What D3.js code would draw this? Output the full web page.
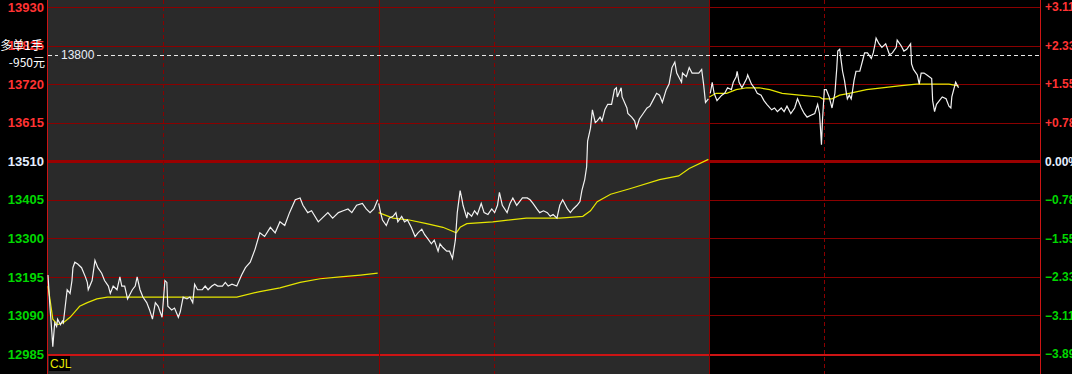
<!DOCTYPE html>
<html>
<head>
<meta charset="utf-8">
<script src="https://cdn.jsdelivr.net/npm/d3@7"></script>
<style>
  html, body { margin: 0; padding: 0; background: #000; overflow: hidden; }
  svg { display: block; }
</style>
</head>
<body>
<div id="chart"></div>
<script>
// price grid (left axis) and previous settle
const priceTicks = [13930, 13825, 13720, 13615, 13510, 13405, 13300, 13195, 13090, 12985];
const prevClose = 13510;
const orderLine = 13800;
const orderLabels = ['多单1手', '-950元'];

// minutes per trading day, day breaks and session (night close) breaks
const dayLength = 345;
const dayBreaks = [345, 690];
const sessionBreaks = [120, 465, 810];

// [minute of day, price]
const day1Price = [
  [0, 13200], [2, 13115], [4, 13045], [5, 13005], [7, 13070], [9, 13060], [10, 13080], [13, 13065],
  [15, 13075], [16, 13070], [18, 13115], [20, 13160], [23, 13150], [25, 13185], [26, 13220], [28, 13235],
  [31, 13230], [35, 13220], [39, 13195], [41, 13180], [42, 13160], [46, 13185], [49, 13240], [52, 13220],
  [56, 13205], [59, 13185], [63, 13170], [65, 13150], [68, 13170], [72, 13160], [75, 13195], [77, 13170],
  [80, 13170], [83, 13135], [88, 13160], [91, 13170], [93, 13195], [96, 13160], [99, 13140], [103, 13125],
  [106, 13105], [109, 13080], [112, 13125], [115, 13115], [119, 13085], [122, 13185], [124, 13180],
  [125, 13115], [129, 13105], [132, 13110], [136, 13085], [138, 13100], [141, 13140], [145, 13135],
  [148, 13140], [151, 13125], [153, 13175], [156, 13160], [161, 13160], [164, 13170], [167, 13160],
  [171, 13170], [174, 13175], [177, 13170], [182, 13170], [185, 13180], [188, 13170], [192, 13175],
  [197, 13170], [202, 13200], [206, 13220], [211, 13235], [216, 13270], [221, 13315], [226, 13305],
  [232, 13330], [237, 13315], [242, 13345], [247, 13335], [252, 13370], [258, 13405], [263, 13410],
  [266, 13390], [271, 13370], [275, 13375], [282, 13345], [286, 13355], [292, 13370], [297, 13355],
  [303, 13370], [308, 13375], [313, 13380], [317, 13370], [322, 13390], [328, 13395], [332, 13380],
  [336, 13370], [340, 13380], [344, 13405]
];
const day2Price = [
  [0, 13395], [2, 13370], [4, 13350], [8, 13335], [11, 13355], [15, 13360], [18, 13370], [20, 13345],
  [24, 13360], [27, 13345], [30, 13350], [34, 13330], [38, 13305], [41, 13315], [45, 13325], [48, 13310],
  [51, 13300], [55, 13285], [58, 13295], [62, 13265], [64, 13285], [67, 13275], [71, 13265], [74, 13265],
  [77, 13245], [80, 13295], [82, 13370], [85, 13430], [87, 13405], [88, 13390], [92, 13355], [93, 13370],
  [97, 13360], [100, 13375], [103, 13365], [107, 13395], [110, 13370], [114, 13365], [118, 13380],
  [121, 13370], [124, 13390], [126, 13425], [129, 13390], [134, 13370], [137, 13395], [140, 13410],
  [144, 13390], [147, 13400], [150, 13410], [155, 13410], [158, 13405], [161, 13395], [165, 13380],
  [168, 13370], [172, 13375], [176, 13370], [179, 13360], [182, 13365], [186, 13355], [189, 13390],
  [192, 13405], [197, 13380], [200, 13370], [203, 13380], [207, 13390], [210, 13400], [212, 13430],
  [215, 13460], [217, 13495], [218, 13565], [221, 13600], [223, 13650], [226, 13615], [228, 13620],
  [231, 13630], [233, 13620], [236, 13650], [239, 13665], [243, 13665], [246, 13705], [248, 13710],
  [249, 13685], [253, 13710], [254, 13685], [259, 13655], [260, 13640], [264, 13630], [267, 13620],
  [269, 13600], [272, 13625], [276, 13640], [280, 13655], [283, 13660], [286, 13675], [290, 13695],
  [293, 13690], [296, 13670], [300, 13705], [303, 13720], [306, 13765], [309, 13780], [311, 13750],
  [316, 13725], [317, 13750], [321, 13740], [324, 13765], [327, 13750], [331, 13750], [334, 13750],
  [337, 13760], [339, 13720], [341, 13670], [344, 13680]
];
const day3Price = [
  [1, 13695], [3, 13725], [5, 13695], [8, 13675], [13, 13690], [16, 13695], [19, 13710], [23, 13705],
  [25, 13725], [28, 13740], [29, 13755], [31, 13725], [34, 13710], [39, 13735], [40, 13745], [44, 13720],
  [47, 13710], [50, 13695], [54, 13690], [57, 13675], [60, 13665], [65, 13650], [68, 13655], [71, 13645],
  [75, 13655], [78, 13645], [81, 13660], [85, 13640], [89, 13655], [92, 13680], [96, 13655], [99, 13640],
  [102, 13630], [106, 13635], [110, 13640], [113, 13665], [115, 13640], [117, 13555], [118, 13620],
  [120, 13705], [122, 13705], [125, 13685], [128, 13655], [131, 13695], [133, 13765], [134, 13810],
  [136, 13815], [138, 13775], [139, 13755], [141, 13730], [143, 13695], [144, 13680], [146, 13690],
  [148, 13680], [149, 13695], [151, 13730], [153, 13755], [157, 13755], [160, 13785], [162, 13805],
  [165, 13805], [169, 13790], [171, 13805], [173, 13830], [174, 13845], [177, 13830], [180, 13820],
  [184, 13830], [188, 13800], [191, 13805], [195, 13820], [196, 13840], [200, 13825], [203, 13810],
  [206, 13815], [210, 13830], [211, 13775], [213, 13760], [217, 13745], [219, 13720], [221, 13750],
  [224, 13750], [227, 13745], [232, 13735], [233, 13675], [235, 13645], [237, 13665], [240, 13675],
  [243, 13685], [247, 13680], [250, 13660], [252, 13655], [253, 13685], [257, 13725], [260, 13710]
];

// [minute of day, average price]
const day1Avg = [
  [0, 13170], [2, 13135], [5, 13080], [10, 13065], [16, 13070], [23, 13085], [28, 13100], [33, 13115],
  [41, 13125], [51, 13135], [62, 13140], [78, 13140], [130, 13140], [166, 13140], [197, 13140],
  [221, 13155], [242, 13165], [263, 13180], [284, 13190], [305, 13195], [326, 13200], [344, 13205]
];
const day2Avg = [
  [0, 13370], [15, 13355], [32, 13350], [50, 13340], [67, 13330], [81, 13315], [85, 13330], [92, 13340],
  [119, 13345], [154, 13355], [189, 13355], [213, 13360], [221, 13375], [228, 13400], [242, 13420],
  [262, 13435], [293, 13460], [313, 13470], [324, 13490], [344, 13515]
];
const day3Avg = [
  [0, 13685], [7, 13695], [18, 13695], [28, 13705], [39, 13710], [52, 13710], [63, 13705], [76, 13695],
  [94, 13690], [115, 13685], [118, 13680], [128, 13680], [136, 13690], [146, 13695], [164, 13705],
  [180, 13710], [198, 13715], [216, 13720], [233, 13720], [250, 13720], [260, 13715]
];

const width = 1072;
const height = 374;
const plot = { left: 48, right: 1040, top: 7, bottom: 354 };

const svg = d3.select('#chart')
  .append('svg')
  .attr('width', width)
  .attr('height', height);

const x = d3.scaleLinear()
  .domain([0, dayLength * 3])
  .range([plot.left, plot.right]);

const y = d3.scaleLinear()
  .domain([d3.min(priceTicks), d3.max(priceTicks)])
  .range([plot.bottom, plot.top]);

const crisp = v => Math.round(v) + 0.5;

// backgrounds: past days grey, today black
svg.append('rect')
  .attr('x', 0).attr('y', 0)
  .attr('width', width).attr('height', height)
  .attr('fill', '#000');
svg.append('rect')
  .attr('x', plot.left)
  .attr('y', 0)
  .attr('width', Math.round(x(dayBreaks[1])) - plot.left)
  .attr('height', height)
  .attr('fill', '#2a2a2a');

// horizontal grid
svg.append('g')
  .selectAll('line')
  .data(priceTicks)
  .enter()
  .append('line')
  .attr('x1', plot.left)
  .attr('x2', plot.right)
  .attr('y1', d => (d === prevClose ? Math.round(y(d)) : crisp(y(d))))
  .attr('y2', d => (d === prevClose ? Math.round(y(d)) : crisp(y(d))))
  .attr('stroke', (d) => {
    if (d === d3.min(priceTicks)) return '#cc1414';
    return d === prevClose ? '#9a0000' : '#8a0000';
  })
  .attr('stroke-width', (d) => {
    if (d === prevClose) return 3;
    return d === d3.min(priceTicks) ? 2 : 1;
  })
  .attr('shape-rendering', 'crispEdges');

// day breaks (solid) and night-session ends (dashed)
svg.append('g')
  .selectAll('line')
  .data(dayBreaks)
  .enter()
  .append('line')
  .attr('x1', d => crisp(x(d)))
  .attr('x2', d => crisp(x(d)))
  .attr('y1', 0)
  .attr('y2', height)
  .attr('stroke', '#8a0000')
  .attr('shape-rendering', 'crispEdges');

svg.append('g')
  .selectAll('line')
  .data(sessionBreaks)
  .enter()
  .append('line')
  .attr('x1', d => crisp(x(d)))
  .attr('x2', d => crisp(x(d)))
  .attr('y1', 0)
  .attr('y2', height)
  .attr('stroke', '#8a0000')
  .attr('stroke-dasharray', '4,3')
  .attr('shape-rendering', 'crispEdges');

// axis borders
svg.append('line')
  .attr('x1', crisp(plot.left - 1)).attr('x2', crisp(plot.left - 1))
  .attr('y1', 0).attr('y2', height)
  .attr('stroke', '#cc1414')
  .attr('shape-rendering', 'crispEdges');
svg.append('line')
  .attr('x1', crisp(plot.right)).attr('x2', crisp(plot.right))
  .attr('y1', 0).attr('y2', height)
  .attr('stroke', '#cc1414')
  .attr('shape-rendering', 'crispEdges');

// order price line
svg.append('line')
  .attr('x1', plot.left)
  .attr('x2', plot.right)
  .attr('y1', crisp(y(orderLine)))
  .attr('y2', crisp(y(orderLine)))
  .attr('stroke', '#e8e8e8')
  .attr('stroke-dasharray', '4,3')
  .attr('shape-rendering', 'crispEdges');
const orderText = svg.append('text')
  .attr('x', plot.left + 13)
  .attr('y', y(orderLine))
  .attr('dy', '0.35em')
  .attr('fill', '#e8eef8')
  .attr('font-family', 'Liberation Sans, Arial, sans-serif')
  .attr('font-size', '12px')
  .text(orderLine);
const bb = orderText.node().getBBox();
svg.insert('rect', () => orderText.node())
  .attr('x', bb.x - 3)
  .attr('y', bb.y)
  .attr('width', bb.width + 5)
  .attr('height', bb.height)
  .attr('fill', '#2a2a2a');

// price and average lines, one path per day
const line = d3.line()
  .x(d => x(d[0]))
  .y(d => y(d[1]));

const days = [
  { price: day1Price, avg: day1Avg },
  { price: day2Price, avg: day2Avg },
  { price: day3Price, avg: day3Avg },
];

days.forEach((day, i) => {
  const shift = d => [d[0] + i * dayLength, d[1]];
  svg.append('path')
    .datum(day.avg.map(shift))
    .attr('fill', 'none')
    .attr('stroke', '#e6e600')
    .attr('stroke-width', 1.2)
    .attr('d', line);
  svg.append('path')
    .datum(day.price.map(shift))
    .attr('fill', 'none')
    .attr('stroke', '#f2f2f2')
    .attr('stroke-width', 1.2)
    .attr('d', line);
});

// left price labels
const tickColor = (d) => {
  if (d > prevClose) return '#ff3333';
  if (d < prevClose) return '#00d800';
  return '#e4eeff';
};

svg.append('g')
  .selectAll('text')
  .data(priceTicks)
  .enter()
  .append('text')
  .attr('x', 44)
  .attr('y', d => y(d))
  .attr('dy', '0.36em')
  .attr('text-anchor', 'end')
  .attr('font-family', 'Liberation Sans, Arial, sans-serif')
  .attr('font-weight', 'bold')
  .attr('font-size', '13px')
  .attr('fill', tickColor)
  .text(d => d);

// right percent labels
const pct = d3.format('.2f');
svg.append('g')
  .selectAll('text')
  .data(priceTicks)
  .enter()
  .append('text')
  .attr('x', plot.right + 5)
  .attr('y', d => y(d))
  .attr('dy', '0.36em')
  .attr('font-family', 'Liberation Sans, Arial, sans-serif')
  .attr('font-weight', 'bold')
  .attr('font-size', '12px')
  .attr('fill', tickColor)
  .text((d) => {
    const v = (d - prevClose) / prevClose * 100;
    return `${v > 0 ? '+' : ''}${pct(v)}%`;
  });

// position info over the left axis
svg.append('g')
  .selectAll('text')
  .data(orderLabels)
  .enter()
  .append('text')
  .attr('x', (d, i) => (i === 0 ? 43 : 45))
  .attr('y', (d, i) => y(priceTicks[1]) + i * 17)
  .attr('dy', '0.36em')
  .attr('text-anchor', 'end')
  .attr('font-family', 'Noto Sans CJK SC, sans-serif')
  .attr('font-size', '12px')
  .attr('fill', '#ffffff')
  .text(d => d);

// volume panel label
svg.append('rect')
  .attr('x', plot.left + 1)
  .attr('y', plot.bottom + 2)
  .attr('width', 21)
  .attr('height', 15)
  .attr('fill', '#000');
svg.append('text')
  .attr('x', plot.left + 2)
  .attr('y', plot.bottom + 14)
  .attr('font-family', 'Liberation Sans, Arial, sans-serif')
  .attr('font-size', '12px')
  .attr('fill', '#e6e600')
  .text('CJL');
</script>
</body>
</html>
